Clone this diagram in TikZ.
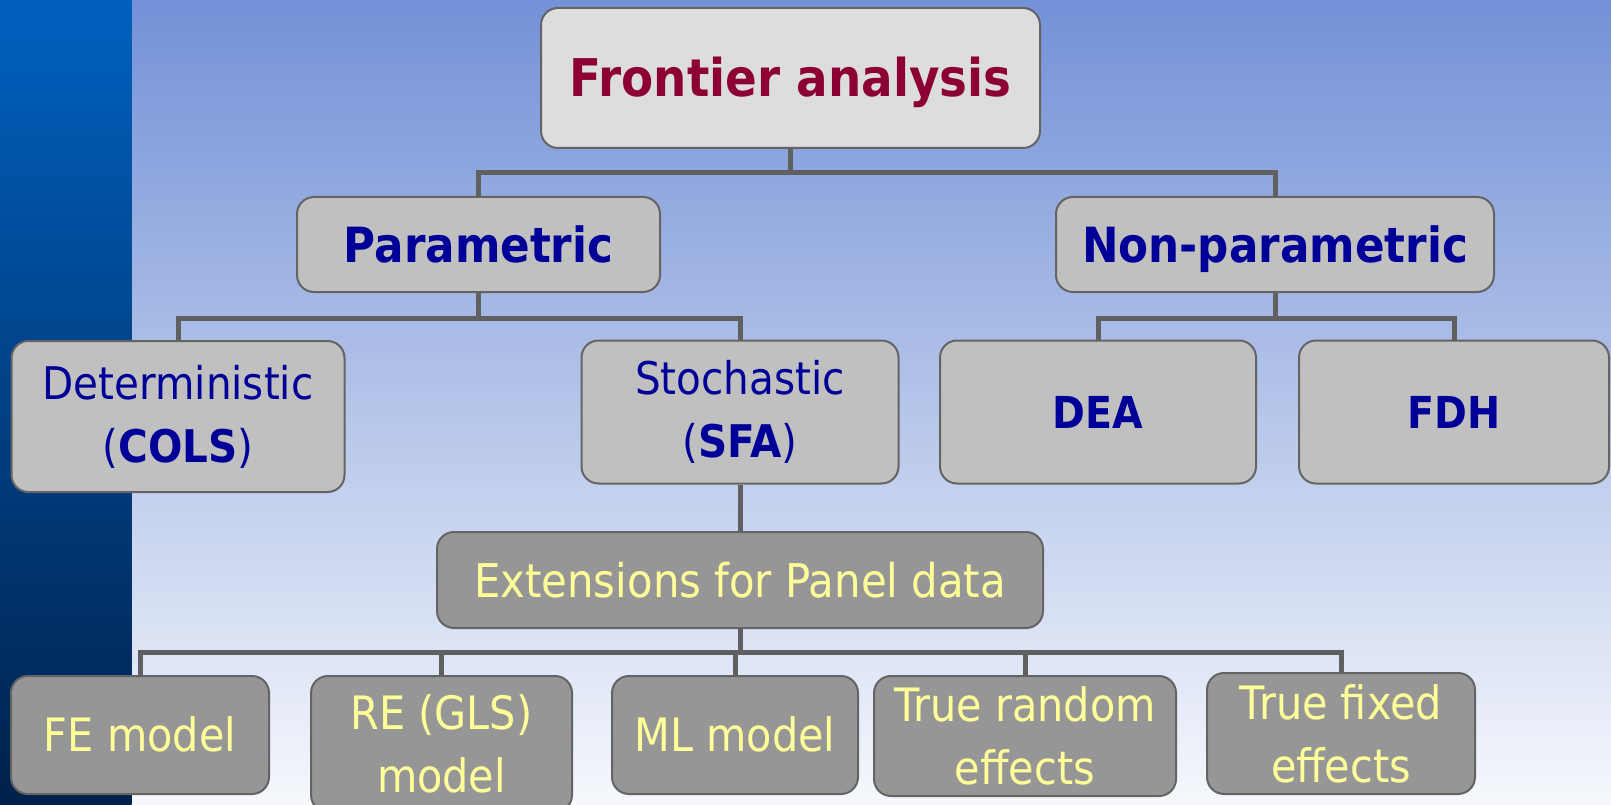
\documentclass[tikz,border=0pt]{standalone}
\usepackage{fontspec}
\setmainfont{DejaVu Sans}[FakeStretch=0.9]
\usetikzlibrary{calc}
\definecolor{bgtop}{RGB}{115,145,215}
\definecolor{bgmid}{RGB}{203,210,239}
\definecolor{bgbot}{RGB}{246,248,252}
\definecolor{bartop}{RGB}{0,96,190}
\definecolor{barbot}{RGB}{0,33,75}
\definecolor{boxlight}{RGB}{221,221,221}
\definecolor{boxmid}{RGB}{192,192,192}
\definecolor{boxdark}{RGB}{150,150,150}
\definecolor{edgegray}{RGB}{100,100,100}
\definecolor{linegray}{RGB}{96,96,96}
\definecolor{darkred}{RGB}{140,0,51}
\definecolor{navy}{RGB}{0,0,153}
\definecolor{paleyellow}{RGB}{255,255,153}
\begin{document}
\begin{tikzpicture}[x=1pt,y=-1pt,
  conn/.style={draw=linegray, line width=5pt},
  basebox/.style={rectangle, draw=edgegray, line width=2pt, rounded corners=17pt, inner sep=0pt, align=center},
  topbox/.style={basebox, fill=boxlight, text=darkred, font=\fontsize{52}{62}\selectfont\bfseries},
  midbox/.style={basebox, fill=boxmid, text=navy},
  lowbox/.style={basebox, fill=boxdark, text=paleyellow, font=\fontsize{46}{63}\selectfont},
  headfont/.style={font=\fontsize{48.5}{60}\selectfont\bfseries},
  leaffont/.style={font=\fontsize{45}{63}\selectfont},
  onecap/.style={text height=#1, text depth=0pt}
]
\useasboundingbox (0,0) rectangle (1611,805);
\clip (0,0) rectangle (1611,805);
\shade[top color=bgtop, middle color=bgmid, bottom color=bgbot] (0,0) rectangle (1611,805);
\shade[top color=bartop, bottom color=barbot] (0,0) rectangle (131.5,805);

% nodes
\node[topbox, onecap=38pt, minimum width=499pt, minimum height=140pt] (fa) at (790.5,78) {Frontier analysis};
\node[midbox, headfont, onecap=35pt, minimum width=363pt, minimum height=95pt] (par) at (478.5,244.5) {Parametric};
\node[midbox, headfont, onecap=35pt, minimum width=438pt, minimum height=95pt] (np) at (1275,244.5) {Non-parametric};
\node[midbox, leaffont, minimum width=333pt, minimum height=151pt] (det) at (178,416.5) {Deterministic\\(\textbf{COLS})};
\node[midbox, leaffont, minimum width=317pt, minimum height=143pt] (sto) at (740,412) {Stochastic\\(\textbf{SFA})};
\node[midbox, font=\fontsize{44}{60}\selectfont\bfseries, onecap=32pt, minimum width=316pt, minimum height=143pt] (dea) at (1098,412) {DEA};
\node[midbox, font=\fontsize{44}{60}\selectfont\bfseries, onecap=32pt, minimum width=310pt, minimum height=143pt] (fdh) at (1454,412) {FDH};
\node[lowbox, font=\fontsize{46.5}{63}\selectfont, onecap=34pt, minimum width=606pt, minimum height=96pt] (ext) at (740,580) {Extensions for Panel data};
\node[lowbox, onecap=33.5pt, minimum width=258pt, minimum height=118pt] (fe) at (140,735) {FE model};
\node[lowbox, minimum width=261pt, minimum height=136pt] (re) at (441.5,744) {RE (GLS)\\model};
\node[lowbox, onecap=33.5pt, minimum width=246pt, minimum height=118pt] (ml) at (735,735) {ML model};
\node[lowbox, minimum width=302pt, minimum height=120pt] (tr) at (1025,736) {True random\\effects};
\node[lowbox, minimum width=268pt, minimum height=121pt] (tf) at (1341,733.5) {True fixed\\effects};

% connectors
\coordinate (j1) at (790.5,173);
\coordinate (j2) at (478.5,318.5);
\coordinate (j3) at (1275,318.5);
\coordinate (j4) at (740,652);
\draw[conn] (fa.south) -- (j1);
\draw[conn] (par.north) |- (j1) -| (np.north);
\draw[conn] (par.south) -- (j2);
\draw[conn] (det.north) |- (j2) -| (sto.north);
\draw[conn] (np.south) -- (j3);
\draw[conn] (dea.north) |- (j3) -| (fdh.north);
\draw[conn] (sto.south) -- (ext.north);
\draw[conn] (ext.south) -- (j4);
\draw[conn] (fe.north) |- (j4) -| (tf.north);
\draw[conn] (re.north) -- (re.north |- j4);
\draw[conn] (ml.north) -- (ml.north |- j4);
\draw[conn] (tr.north) -- (tr.north |- j4);
\end{tikzpicture}
\end{document}
